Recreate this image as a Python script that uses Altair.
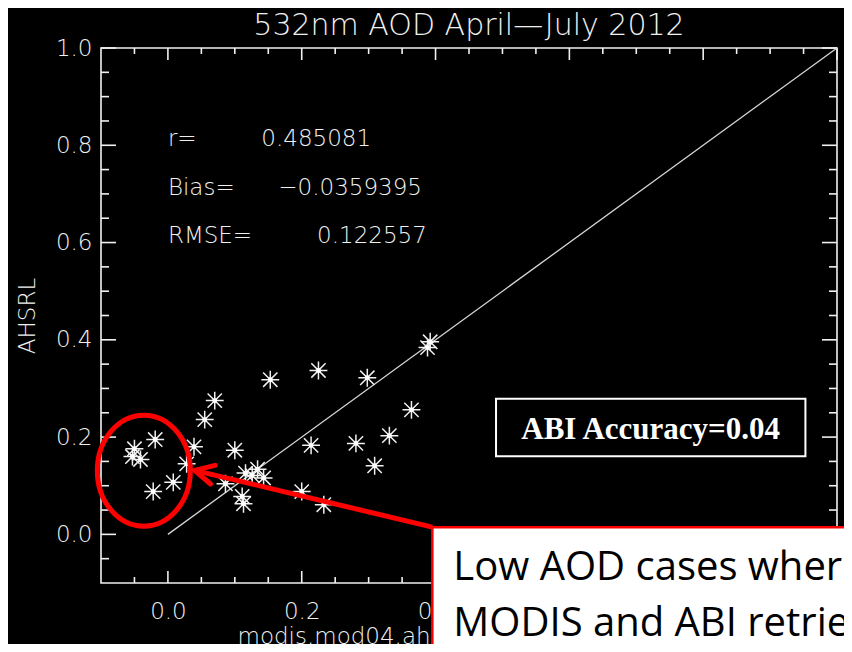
import altair as alt
import pandas as pd

# ---------------- data ----------------
modis_aod = [-0.050, -0.053, -0.041, -0.019, -0.022, 0.008, 0.028, 0.039, 0.055, 0.070,
             0.100, 0.086, 0.116, 0.134, 0.143, 0.126, 0.111, 0.113, 0.153, 0.225,
             0.214, 0.200, 0.233, 0.281, 0.298, 0.309, 0.331, 0.364, 0.392, 0.388]
ahsrl_aod = [0.176, 0.160, 0.154, 0.195, 0.088, 0.107, 0.145, 0.180, 0.236, 0.275,
             0.173, 0.104, 0.126, 0.134, 0.116, 0.121, 0.078, 0.063, 0.318, 0.337,
             0.183, 0.088, 0.061, 0.187, 0.322, 0.141, 0.203, 0.256, 0.396, 0.384]

one_to_one_x = [0.0, 1.0]
one_to_one_y = [0.0, 1.0]

major_ticks = [0.0, 0.2, 0.4, 0.6, 0.8, 1.0]
minor_ticks = [-0.05, 0.05, 0.10, 0.15, 0.25, 0.30, 0.35, 0.45, 0.50, 0.55,
               0.65, 0.70, 0.75, 0.85, 0.90, 0.95]
x_tick_labels = [0.0, 0.2, 0.4]          # the rest are hidden under the note box
y_tick_labels = [0.0, 0.2, 0.4, 0.6, 0.8, 1.0]

stat_names = ["r=", "Bias=", "RMSE="]
stat_values = ["0.485081", "\u22120.0359395", "0.122557"]

TITLE = "532nm AOD April\u2014July 2012"
X_TITLE = "modis.mod04.ahsrl"
Y_TITLE = "AHSRL"
ACCURACY_LABEL = "ABI Accuracy=0.04"
NOTE_LINES = ["Low AOD cases where", "MODIS and ABI retrieve"]

# ---------------- annotation placement (data units) ----------------
title_pos = dict(x=0.45, y=1.0273)
stat_name_x = [0.0, 0.0, 0.0]
stat_value_x = [0.1396, 0.165, 0.2229]
stat_y = [0.798, 0.698, 0.599]

acc_box = dict(x=0.4904, x2=0.9528, y=0.279, y2=0.1604)
acc_text = dict(x=0.7215, y=0.1961)
ellipse_center = dict(x=-0.036, y=0.131)
arrow = dict(x=0.0399, y=0.1316, x2=0.3952, y2=0.0148)
note_box = dict(x=0.3952, x2=1.3, y=0.0148, y2=-0.4)
note_x = [0.4266, 0.4266]
note_y = [-0.0931, -0.2097]

# ---------------- styles ----------------
FG = "#f0f0f0"
FONT = "DejaVu Sans"
WEIGHT = 300
RED = "#ff0000"
W, H = 736, 535

xscale = alt.Scale(domain=[-0.1, 1.0], nice=False, zero=False)
yscale = alt.Scale(domain=[-0.1, 1.0], nice=False, zero=False)

x_axis = alt.Axis(values=x_tick_labels, format=".1f", domain=False, ticks=False, tickSize=0,
                  grid=False, labelFont=FONT, labelFontSize=23, labelColor=FG,
                  labelFontWeight=WEIGHT,
                  labelPadding=17, labelFlush=False, labelOverlap=False,
                  title=X_TITLE, titleFont=FONT, titleFontSize=23, titleFontWeight=WEIGHT,
                  titleColor=FG, titleX=136, titleY=60, titleAlign="left",
                  titleBaseline="alphabetic")
y_axis = alt.Axis(values=y_tick_labels, format=".1f", domain=False, ticks=False, tickSize=0,
                  grid=False, labelFont=FONT, labelFontSize=23, labelColor=FG,
                  labelFontWeight=WEIGHT,
                  labelPadding=9, labelFlush=False, labelOverlap=False,
                  title=Y_TITLE, titleFont=FONT, titleFontSize=23, titleFontWeight=WEIGHT,
                  titleColor=FG, titleX=-67, titleY=H / 2, titleAngle=270,
                  titleAlign="center", titleBaseline="alphabetic")


def X(field):
    return alt.X(f"{field}:Q", scale=xscale, axis=x_axis)


def Y(field):
    return alt.Y(f"{field}:Q", scale=yscale, axis=y_axis)


pts = pd.DataFrame({"x": modis_aod, "y": ahsrl_aod})
line_df = pd.DataFrame({"x": one_to_one_x, "y": one_to_one_y})
maj = pd.DataFrame({"v": major_ticks})
mnr = pd.DataFrame({"v": minor_ticks})

layers = []

# tick marks on all four sides, pointing inward
for df, xl, yl in [(maj, 12, 15), (mnr, 6, 8)]:
    layers.append(alt.Chart(df).mark_rule(color=FG, strokeWidth=1.6).encode(
        x=X("v"), y=alt.value(H), y2=alt.value(H - xl)))
    layers.append(alt.Chart(df).mark_rule(color=FG, strokeWidth=1.6).encode(
        x=X("v"), y=alt.value(0), y2=alt.value(xl)))
    layers.append(alt.Chart(df).mark_rule(color=FG, strokeWidth=1.6).encode(
        y=Y("v"), x=alt.value(0), x2=alt.value(yl)))
    layers.append(alt.Chart(df).mark_rule(color=FG, strokeWidth=1.6).encode(
        y=Y("v"), x=alt.value(W), x2=alt.value(W - yl)))

# 1:1 line
layers.append(alt.Chart(line_df).mark_line(color="#d8d8d8", strokeWidth=1.3).encode(
    x=X("x"), y=Y("y")))

# asterisks
star_path = "M -1 0 L 1 0 M 0 -1 L 0 1 M -0.8 -0.8 L 0.8 0.8 M -0.8 0.8 L 0.8 -0.8"
layers.append(alt.Chart(pts).mark_point(shape=star_path, size=320, filled=False,
                                        stroke=FG, strokeWidth=1.5, opacity=1).encode(
    x=X("x"), y=Y("y")))
layers.append(alt.Chart(pts).mark_point(shape="circle", size=24, filled=True,
                                        color="white", opacity=1).encode(
    x=X("x"), y=Y("y")))

# title
title_df = pd.DataFrame([dict(title_pos, t=TITLE)])
layers.append(alt.Chart(title_df).mark_text(align="center", baseline="alphabetic", font=FONT,
                                            fontSize=30, fontWeight=WEIGHT, color=FG).encode(
    x=X("x"), y=Y("y"), text="t:N"))

# statistics text
stats = pd.DataFrame({"nx": stat_name_x, "vx": stat_value_x, "y": stat_y,
                      "name": stat_names, "value": stat_values})
layers.append(alt.Chart(stats).mark_text(align="left", baseline="alphabetic", font=FONT,
                                         fontSize=23, fontWeight=WEIGHT, color=FG).encode(
    x=X("nx"), y=Y("y"), text="name:N"))
layers.append(alt.Chart(stats).mark_text(align="left", baseline="alphabetic", font=FONT,
                                         fontSize=23, fontWeight=WEIGHT, color=FG).encode(
    x=X("vx"), y=Y("y"), text="value:N"))

# ABI accuracy box
acc_df = pd.DataFrame([acc_box])
layers.append(alt.Chart(acc_df).mark_rect(fill="black", stroke="white", strokeWidth=2).encode(
    x=X("x"), x2="x2:Q", y=Y("y"), y2="y2:Q"))
acc_t = pd.DataFrame([dict(acc_text, label=ACCURACY_LABEL)])
layers.append(alt.Chart(acc_t).mark_text(align="center", baseline="alphabetic",
                                         font="Liberation Serif", fontWeight="bold",
                                         fontSize=31, color="white").encode(
    x=X("x"), y=Y("y"), text="label:N"))

# red ellipse
ell_path = "M -0.838 0 A 0.838 1 0 1 0 0.838 0 A 0.838 1 0 1 0 -0.838 0 Z"
ell_df = pd.DataFrame([ellipse_center])
layers.append(alt.Chart(ell_df).mark_point(shape=ell_path, size=111 * 111, filled=False,
                                           stroke=RED, strokeWidth=5, opacity=1).encode(
    x=X("x"), y=Y("y")))

# red arrow
arr_df = pd.DataFrame([arrow])
layers.append(alt.Chart(arr_df).mark_rule(color=RED, strokeWidth=5).encode(
    x=X("x"), y=Y("y"), x2="x2:Q", y2="y2:Q"))
head_path = "M 1 -0.51 L 0 0 L 1 0.51"
layers.append(alt.Chart(arr_df).mark_point(shape=head_path, size=1400, filled=False,
                                           stroke=RED, strokeWidth=5, angle=13.4,
                                           strokeCap="round", strokeJoin="round",
                                           opacity=1).encode(
    x=X("x"), y=Y("y")))

# white note box at bottom right
nb_df = pd.DataFrame([note_box])
layers.append(alt.Chart(nb_df).mark_rect(fill="white", stroke=RED, strokeWidth=2.5).encode(
    x=X("x"), x2="x2:Q", y=Y("y"), y2="y2:Q"))
note_df = pd.DataFrame({"x": note_x, "y": note_y, "t": NOTE_LINES})
layers.append(alt.Chart(note_df).mark_text(align="left", baseline="alphabetic",
                                           font="Open Sans", fontSize=40,
                                           color="black").encode(
    x=X("x"), y=Y("y"), text="t:N"))

chart = alt.layer(*layers).properties(
    width=W, height=H,
    autosize=alt.AutoSizeParams(type="none"),
    padding={"left": 93, "top": 40, "right": 7, "bottom": 61},
    background="black",
).configure_view(stroke=FG, strokeWidth=1.6)

chart.save("out.html", embed_options={"renderer": "svg", "actions": False})
